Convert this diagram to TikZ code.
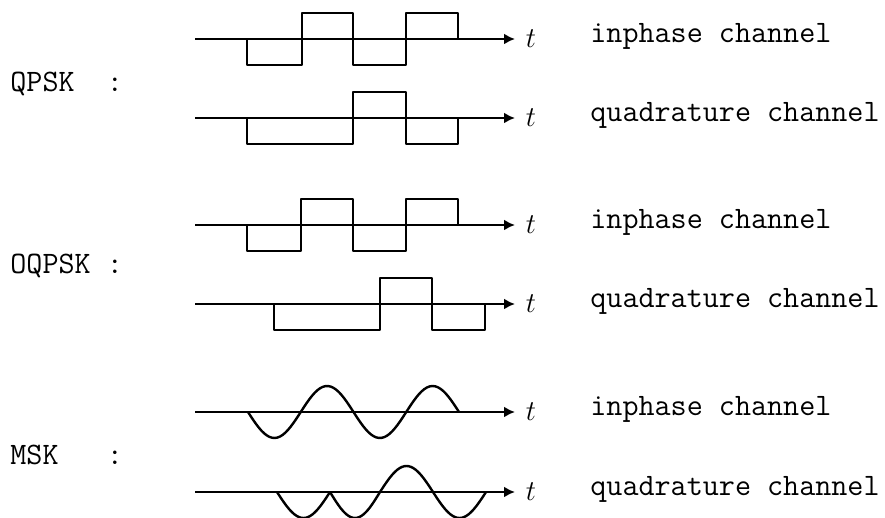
\documentclass[tikz,border=0pt]{standalone}
\usepackage{tikz}
\usetikzlibrary{arrows.meta}
\newcommand{\sigfont}{\fontsize{15.6}{18}\selectfont}
\tikzset{
  taxis/.style={-{Latex[length=5.5pt,width=5.5pt]},line width=1.2pt},
  wave/.style={line width=1.2pt,line join=round},
  chlabel/.style={anchor=base west,inner sep=0pt,font=\sigfont\ttfamily},
  modlabel/.style={anchor=base west,inner sep=0pt,font=\sigfont\ttfamily},
  tlabel/.style={inner sep=0pt,font=\sigfont}
}

\begin{document}
\begin{tikzpicture}[x=0.5pt,y=-0.5pt]
  \useasboundingbox (0,0) rectangle (885,518);
  % time axes with labels
  \foreach \name/\ypos/\lab in {qi/39/inphase,qq/118/quadrature,oi/225/inphase,oq/304/quadrature,mi/412/inphase,mq/492/quadrature}{
    \coordinate (\name-start) at (195,\ypos);
    \coordinate (\name-end) at (515,\ypos);
    \node[tlabel] (\name-t) at (531,\ypos) {$t$};
    \draw[taxis] (\name-start) -- (\name-end);
    \node[chlabel] (\name-ch) at (590,\ypos+4) {\lab\ channel};
  }
  % modulation names
  \node[modlabel] (qpsk) at (10,92) {QPSK\ \ :};
  \node[modlabel] (oqpsk) at (10,274) {OQPSK\ :};
  \node[modlabel] (msk) at (10,465) {MSK\ \ \ :};
  % QPSK
  \draw[wave] (247,39) |- (302,65) |- (353,13) |- (406,65) |- (458,13) -- (458,39);
  \draw[wave] (247,118) |- (353,144) |- (406,92) |- (458,144) -- (458,118);
  % OQPSK
  \draw[wave] (247,225) |- (301,251) |- (353,199) |- (406,251) |- (458,199) -- (458,225);
  \draw[wave] (274,304) |- (380,330) |- (432,278) |- (485,330) -- (485,304);
  % MSK
  \draw[wave] plot[domain=248:459,samples=80] (\x,{412+26*sin(3.4123*(\x-248))});
  \foreach \a/\b/\sgn in {277/330/1,330/380/1,380/433/-1,433/486/1}{
    \draw[wave] plot[domain=\a:\b,samples=25] (\x,{492+\sgn*26*sin((\x-\a)/(\b-\a)*180)});
  }
\end{tikzpicture}
\end{document}
